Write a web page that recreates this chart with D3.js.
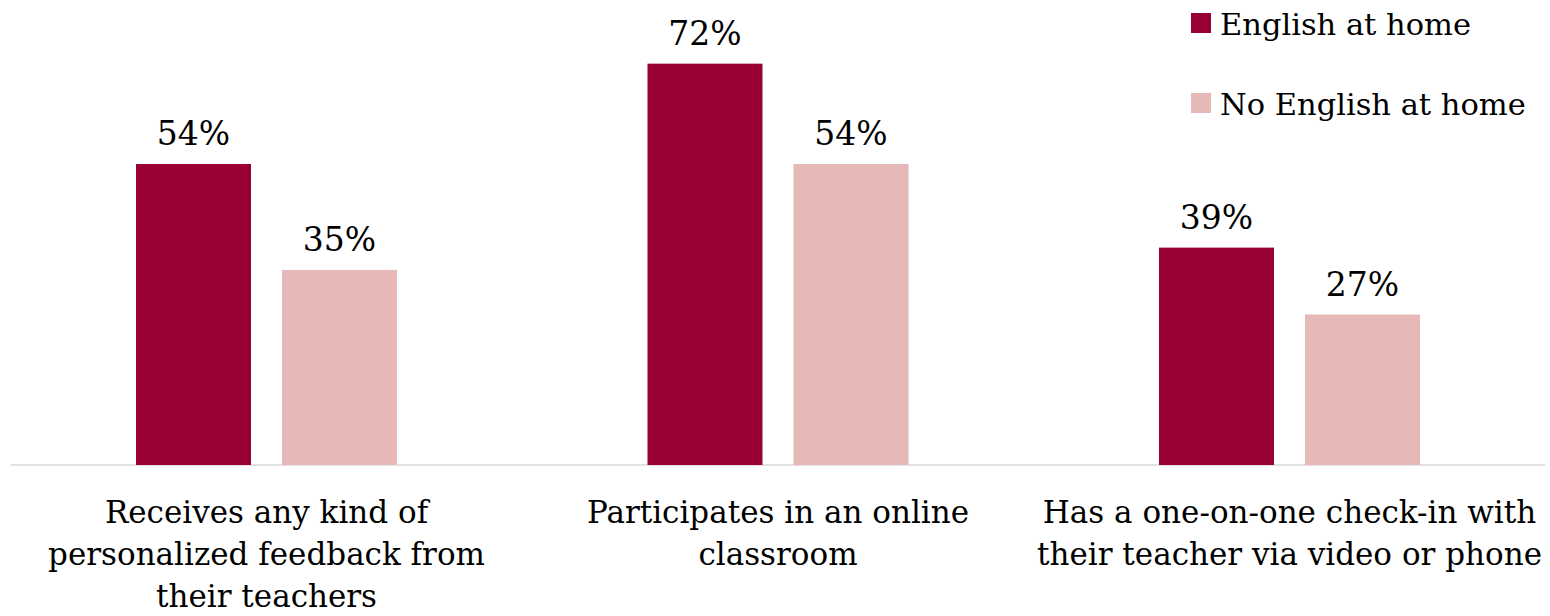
<!DOCTYPE html>
<html>
<head>
<meta charset="utf-8">
<script src="https://cdn.jsdelivr.net/npm/d3@7"></script>
<style>
  html, body { margin: 0; padding: 0; background: #fff; }
  svg { display: block; }
  text { font-family: "DejaVu Serif", "Liberation Serif", serif; fill: #000; }
</style>
</head>
<body>
<svg id="chart" width="1550" height="616"></svg>
<script>
const categories = ["feedback", "online", "checkin"];
const categoryLabels = [
  ["Receives any kind of", "personalized feedback from", "their teachers"],
  ["Participates in an online", "classroom"],
  ["Has a one-on-one check-in with", "their teacher via video or phone"]
];
const seriesNames = ["English at home", "No English at home"];
const englishAtHome = [54, 72, 39];
const noEnglishAtHome = [35, 54, 27];
const seriesColors = ["#990033", "#E6B8B7"];

const seriesValues = [englishAtHome, noEnglishAtHome];
const svg = d3.select("#chart");

const x0 = d3.scaleBand()
  .domain(categories)
  .range([10.75, 1545.25])
  .paddingInner(250.5 / 511.5)
  .paddingOuter(250.5 / 511.5 / 2);

const x1 = d3.scaleBand()
  .domain(seriesNames)
  .range([0, x0.bandwidth()])
  .paddingInner(31 / 146)
  .paddingOuter(0);

const y = d3.scaleLinear().domain([0, 80]).range([465, 465 - 80 * 5.574]);

// axis baseline
svg.append("line")
  .attr("x1", 10.75).attr("x2", 1545.25)
  .attr("y1", y(0)).attr("y2", y(0))
  .attr("stroke", "#D9D9D9").attr("stroke-width", 1.5);

const groups = svg.selectAll("g.cat")
  .data(categories)
  .join("g")
  .attr("class", "cat")
  .attr("transform", d => `translate(${x0(d)},0)`);

groups.each(function(cat, ci) {
  const g = d3.select(this);
  seriesNames.forEach((s, si) => {
    const v = seriesValues[si][ci];
    g.append("rect")
      .attr("x", x1(s))
      .attr("width", x1.bandwidth())
      .attr("y", y(v))
      .attr("height", y(0) - y(v))
      .attr("fill", seriesColors[si]);
    g.append("text")
      .attr("x", x1(s) + x1.bandwidth() / 2)
      .attr("y", y(v) - 19)
      .attr("text-anchor", "middle")
      .attr("font-size", 33)
      .text(v + "%");
  });
});

// category labels
const xAxis = d3.axisBottom(x0).tickSize(0).tickFormat("");
const axisG = svg.append("g").attr("transform", `translate(0,${y(0)})`).call(xAxis);
axisG.select(".domain").remove();
axisG.selectAll(".tick").each(function(d, i) {
  const t = d3.select(this).append("text")
    .attr("text-anchor", "middle")
    .attr("font-size", 31)
    .attr("fill", "#000")
    .style("font-family", '"DejaVu Serif", "Liberation Serif", serif');
  categoryLabels[i].forEach((line, li) => {
    t.append("tspan").attr("x", 0).attr("y", 58 + li * 42).text(line);
  });
});

// legend
const legend = svg.append("g");
seriesNames.forEach((s, i) => {
  const ly = 23 + i * 80;
  legend.append("rect")
    .attr("x", 1191).attr("y", ly - 10)
    .attr("width", 20).attr("height", 20)
    .attr("fill", seriesColors[i]);
  legend.append("text")
    .attr("x", 1220).attr("y", ly + 12)
    .attr("font-size", 30.5)
    .text(s);
});
</script>
</body>
</html>
